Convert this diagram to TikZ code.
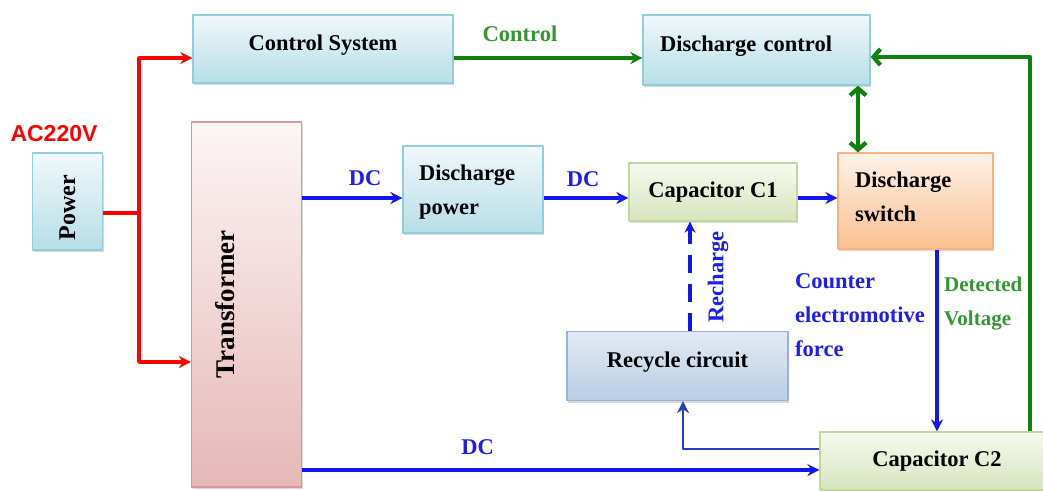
\documentclass[tikz,border=0pt]{standalone}
\usepackage{graphicx}
\usepackage{fontspec}
\setmainfont{Liberation Serif}
\newfontfamily\arialfont{Liberation Sans}
\usetikzlibrary{arrows.meta,shadows}
\definecolor{cyantop}{RGB}{240,248,250}
\definecolor{cyanbot}{RGB}{183,222,232}
\definecolor{cyanedge}{RGB}{146,205,220}
\definecolor{rosetop}{RGB}{253,245,245}
\definecolor{rosebot}{RGB}{229,184,183}
\definecolor{roseedge}{RGB}{217,150,148}
\definecolor{limetop}{RGB}{246,250,239}
\definecolor{limebot}{RGB}{215,228,189}
\definecolor{limeedge}{RGB}{195,214,155}
\definecolor{peachtop}{RGB}{254,242,232}
\definecolor{peachbot}{RGB}{250,192,144}
\definecolor{peachedge}{RGB}{248,178,128}
\definecolor{steeltop}{RGB}{226,234,244}
\definecolor{steelbot}{RGB}{185,205,229}
\definecolor{steeledge}{RGB}{149,179,215}
\definecolor{wireblue}{RGB}{20,20,245}
\definecolor{wiregreen}{RGB}{16,128,16}
\definecolor{textblue}{RGB}{30,30,240}
\definecolor{textgreen}{RGB}{52,150,52}
\begin{document}
\begin{tikzpicture}[x=1pt, y=-1pt, >={Stealth[length=12pt,width=12pt]}, font=\bfseries\fontsize{22.5}{34}\selectfont, line join=round,
		box/.style={draw, line width=1.2pt, inner sep=0pt, drop shadow={shadow xshift=1pt, shadow yshift=-2pt, opacity=0.3}},
		cyanbox/.style={box, draw=cyanedge, top color=cyantop, bottom color=cyanbot},
		rosebox/.style={box, draw=roseedge, top color=rosetop, bottom color=rosebot},
		limebox/.style={box, draw=limeedge, top color=limetop, bottom color=limebot},
		peachbox/.style={box, draw=peachedge, top color=peachtop, bottom color=peachbot},
		steelbox/.style={box, draw=steeledge, top color=steeltop, bottom color=steelbot},
		redwire/.style={draw=red, line width=3.4pt},
		bluewire/.style={draw=wireblue, line width=3.2pt, ->},
		greenwire/.style={draw=wiregreen, line width=4.2pt},
		bluetext/.style={text=textblue, inner sep=0pt},
		greentext/.style={text=textgreen, inner sep=0pt}]
	\fill[white] (0,0) rectangle (1043,490);
	\useasboundingbox (0,0) rectangle (1043,490);
	% boxes
	\node[cyanbox, minimum width=70pt, minimum height=97pt, text height=78pt] (pw) at (67.5,201.5) {\rotatebox{90}{\fontsize{24}{28}\selectfont Power}};
	\node[cyanbox, minimum width=260pt, minimum height=68pt, text depth=12pt] (cs) at (323,49) {Control System};
	\node[rosebox, minimum width=110pt, minimum height=365pt] (tr) at (246.5,304.5) {\rotatebox{90}{\fontsize{27}{30}\selectfont Transformer}\kern42pt};
	\node[cyanbox, minimum width=140pt, minimum height=87pt, align=left, text width=108pt, text depth=33pt] (dp) at (473,189.5) {Discharge\\power};
	\node[limebox, minimum width=168pt, minimum height=58pt] (c1) at (713,192) {Capacitor C1};
	\node[cyanbox, minimum width=227pt, minimum height=70pt, text depth=12pt, align=left, text width=193pt] (dc) at (756.5,50) {Discharge control};
	\node[peachbox, minimum width=155pt, minimum height=96pt, text depth=42pt, align=left, text width=121pt] (ds) at (915.5,201) {Discharge\\switch};
	\node[steelbox, minimum width=221pt, minimum height=69pt, text depth=13pt] (rc) at (677.5,366) {Recycle circuit};
	\node[limebox, minimum width=234pt, minimum height=58pt] (c2) at (937,461) {Capacitor C2};
	% labels
	\node[text=red, inner sep=0pt, font=\arialfont\bfseries\fontsize{23}{28}\selectfont] (ac) at (54,133.5) {AC220V};
	\node[greentext] (ctl) at (520,34) {Control};
	\node[bluetext] (dc1) at (365,178) {DC};
	\node[bluetext] (dc2) at (583,179) {DC};
	\node[bluetext] (dc3) at (477.5,447.5) {DC};
	\node[bluetext, rotate=90] (rch) at (718,277) {Recharge};
	\node[bluetext, anchor=west, align=left] (cemf) at (795,315) {Counter\\electromotive\\force};
	\node[greentext, anchor=west, align=left, font=\bfseries\fontsize{21}{34}\selectfont] (dv) at (944,304) {Detected\\Voltage};
	% wires
	\coordinate (jn) at (139,213);
	\coordinate (dcrow) at (0,198);
	\coordinate (lowrow) at (0,470);
	\coordinate (recx) at (683,0);
	\coordinate (rchx) at (690,0);
	\coordinate (swx) at (858,0);
	\coordinate (gx) at (1030,0);
	\draw[redwire] (pw.east |- jn) -- (jn);
	\draw[redwire, ->] (jn) |- ([yshift=-9pt]cs.west);
	\draw[redwire, ->] (jn) |- ([yshift=-57.5pt]tr.west);
	\draw[bluewire] (tr.east |- dcrow) -- (dp.west |- dcrow);
	\draw[bluewire] (dp.east |- dcrow) -- (c1.west |- dcrow);
	\draw[bluewire] (c1.east |- dcrow) -- (ds.west |- dcrow);
	\draw[bluewire] (tr.east |- lowrow) -- (c2.west |- lowrow);
	\draw[bluewire] ([xshift=21.5pt]ds.south) -- ([xshift=21.5pt]ds.south |- c2.north);
	\draw[bluewire, line width=2.6pt, draw={rgb,255:red,40;green,60;blue,190}] ([yshift=12pt]c2.west) -| (recx |- rc.south);
	\draw[bluewire, dash pattern=on 18pt off 11pt, >={Stealth[length=11pt,width=11pt]}] (rchx |- rc.north) -- (rchx |- c1.south);
	\draw[greenwire, ->] ([yshift=-9pt]cs.east) -- ([yshift=-9pt]cs.east -| dc.west);
	\draw[greenwire, -{Straight Barb[length=7pt,width=16pt]}] (gx |- c2.north) |- ([yshift=-7pt]dc.east);
	\draw[greenwire, {Straight Barb[length=7pt,width=16pt]}-{Straight Barb[length=7pt,width=16pt]}] (swx |- dc.south) -- (swx |- ds.north);
\end{tikzpicture}
\end{document}
